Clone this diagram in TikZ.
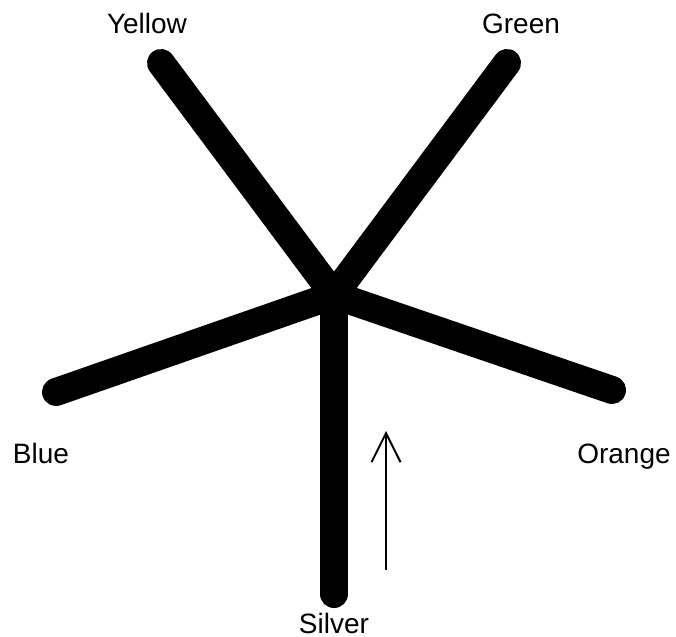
\documentclass[tikz,border=0pt]{standalone}
\usepackage{fontspec}
\setmainfont{Liberation Sans}
\usetikzlibrary{arrows.meta}
\begin{document}
\begin{tikzpicture}[x=1pt,y=-1pt,
  arm/.style={line width=28pt,line cap=round},
  lbl/.style={anchor=base,inner sep=0pt,font=\fontsize{28}{30}\selectfont},
  pointer/.style={line width=2pt,-{Straight Barb[length=29pt,width=29pt,line width=2pt]}}]
\useasboundingbox (0,0) rectangle (676,636);
\coordinate (c) at (334,295);
\coordinate (y) at (161,63);
\coordinate (g) at (507,63);
\coordinate (b) at (56,392);
\coordinate (o) at (612,390);
\coordinate (s) at (334,594);
\draw[arm] (c) -- (y);
\draw[arm] (c) -- (g);
\draw[arm] (c) -- (b);
\draw[arm] (c) -- (o);
\draw[arm] (c) -- (s);
\node[lbl] (ly) at (147,34) {Yellow};
\node[lbl] (lg) at (521,34) {Green};
\node[lbl] (lb) at (41,463) {Blue};
\node[lbl] (lo) at (624,463) {Orange};
\node[lbl] (ls) at (334,633) {Silver};
\coordinate (a1) at (386,570);
\coordinate (a2) at (386,431);
\draw[pointer] (a1) -- (a2);
\end{tikzpicture}
\end{document}
